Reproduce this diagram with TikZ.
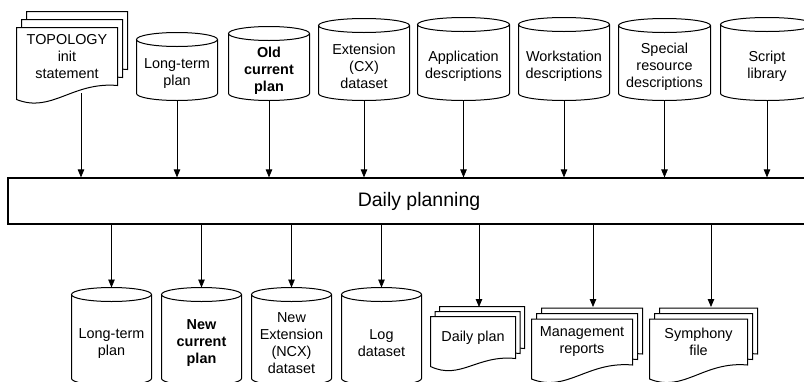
\documentclass[tikz,border=0pt]{standalone}
\usepackage{fontspec}
\setmainfont{Liberation Sans}
\usetikzlibrary{arrows.meta,calc,backgrounds}

\begin{document}
\begin{tikzpicture}
  [x=1pt, y=-1pt, line width=1pt,
   every node/.style={font=\fontsize{14.4}{17}\selectfont, align=center, inner sep=0pt},
   boldtext/.style={font=\fontsize{14.4}{17}\selectfont\bfseries},
   drum/.style 2 args={minimum width=#1, minimum height=#2},
   sheet/.style 2 args={minimum width=#1, minimum height=#2},
   page/.style={draw, fill=white, line width=1pt},
   flow/.style={-{Triangle[width=6.5pt,length=8pt]}, line width=0.8pt}]
  \useasboundingbox (0,0) rectangle (804,381);

  % main step
  \node[draw, line width=1.2pt, minimum width=822, minimum height=46,
        font=\fontsize{19.5}{23}\selectfont] (plan) at (419,201) {Daily planning};

  % inputs
  \node[sheet={100}{57}] (topo) at (67,56.5) {TOPOLOGY\\init\\statement};
  \node[drum={80}{53}] (ltp) at (177,73.5) {Long-term\\plan};
  \node[drum={80}{59}, boldtext] (ocp) at (269,70.5) {Old\\current\\plan};
  \node[drum={90}{67}] (cx) at (364,66.5) {Extension\\(CX)\\dataset};
  \node[drum={91}{68}] (app) at (463.5,66) {Application\\descriptions};
  \node[drum={90}{68}] (wks) at (564,66) {Workstation\\descriptions};
  \node[drum={91}{67}] (srd) at (664.5,66.5) {Special\\resource\\descriptions};
  \node[drum={92}{68}] (lib) at (767,66) {Script\\library};

  % outputs
  \node[drum={79}{83}] (nltp) at (111.5,343.5) {Long-term\\plan};
  \node[drum={79}{83}, boldtext] (ncp) at (201.5,343.5) {New\\current\\plan};
  \node[drum={79}{83}] (ncx) at (291.5,343.5) {New\\Extension\\(NCX)\\dataset};
  \node[drum={79}{83}] (log) at (381.5,343.5) {Log\\dataset};
  \node[sheet={84}{41}] (dp) at (473,337.5) {Daily plan};
  \node[sheet={100}{45}] (mr) at (582,342) {Management\\reports};
  \node[sheet={97}{45}] (sf) at (698.5,342) {Symphony\\file};

  % cylinder outlines
  \foreach \c in {ltp,ocp,cx,app,wks,srd,lib,nltp,ncp,ncx,log}
    \draw let \p1=(\c.north west), \p2=(\c.south east), \n1={(\x2-\x1)/2} in
      (\x1,\y1+7pt) -- (\x1,\y2+7pt)
      arc[start angle=180, end angle=360, x radius=\n1, y radius=7pt]
      -- (\x2,\y1+7pt)
      (\x1+\n1,\y1+7pt) ellipse[x radius=\n1, y radius=7pt];

  % stacked pages, back one first
  \begin{scope}[on background layer]
    \foreach \d/\dr/\ox/\oy in {topo/14/5/8, dp/8/4.5/5, mr/14/5/5.5, sf/14/5/5.5}
      \foreach \k in {2,1,0}
        \draw[page] let \p1=(\d.north west), \p2=(\d.south east), \n1={\x2-\x1} in
          (\x1+\k*\ox*1pt,\y1+\k*\oy*1pt) -- (\x2+\k*\ox*1pt,\y1+\k*\oy*1pt)
          -- (\x2+\k*\ox*1pt,\y2+\k*\oy*1pt)
          .. controls +({-0.45*\n1*1pt},4pt) and +({0.35*\n1*1pt},-14pt) ..
          (\x1+\k*\ox*1pt,\y2-\dr*1pt+\k*\oy*1pt) -- cycle;
  \end{scope}

  \coordinate (topo-out) at (81,93);
  \coordinate (dp-in) at (479,307);
  \coordinate (mr-in) at (593,307);
  \coordinate (sf-in) at (711,307);

  % arrows into daily planning
  \draw[flow] (topo-out) -- (topo-out |- plan.north);
  \foreach \c in {ltp,ocp,cx,app,wks,srd,lib}
    \draw[flow] (\c.south) -- (\c.south |- plan.north);

  % arrows out of daily planning
  \foreach \c in {nltp,ncp,ncx,log}
    \draw[flow] (plan.south -| \c.north) -- ([yshift=14pt]\c.north);
  \foreach \c in {dp,mr,sf}
    \draw[flow] (plan.south -| \c-in) -- (\c-in);
\end{tikzpicture}
\end{document}
